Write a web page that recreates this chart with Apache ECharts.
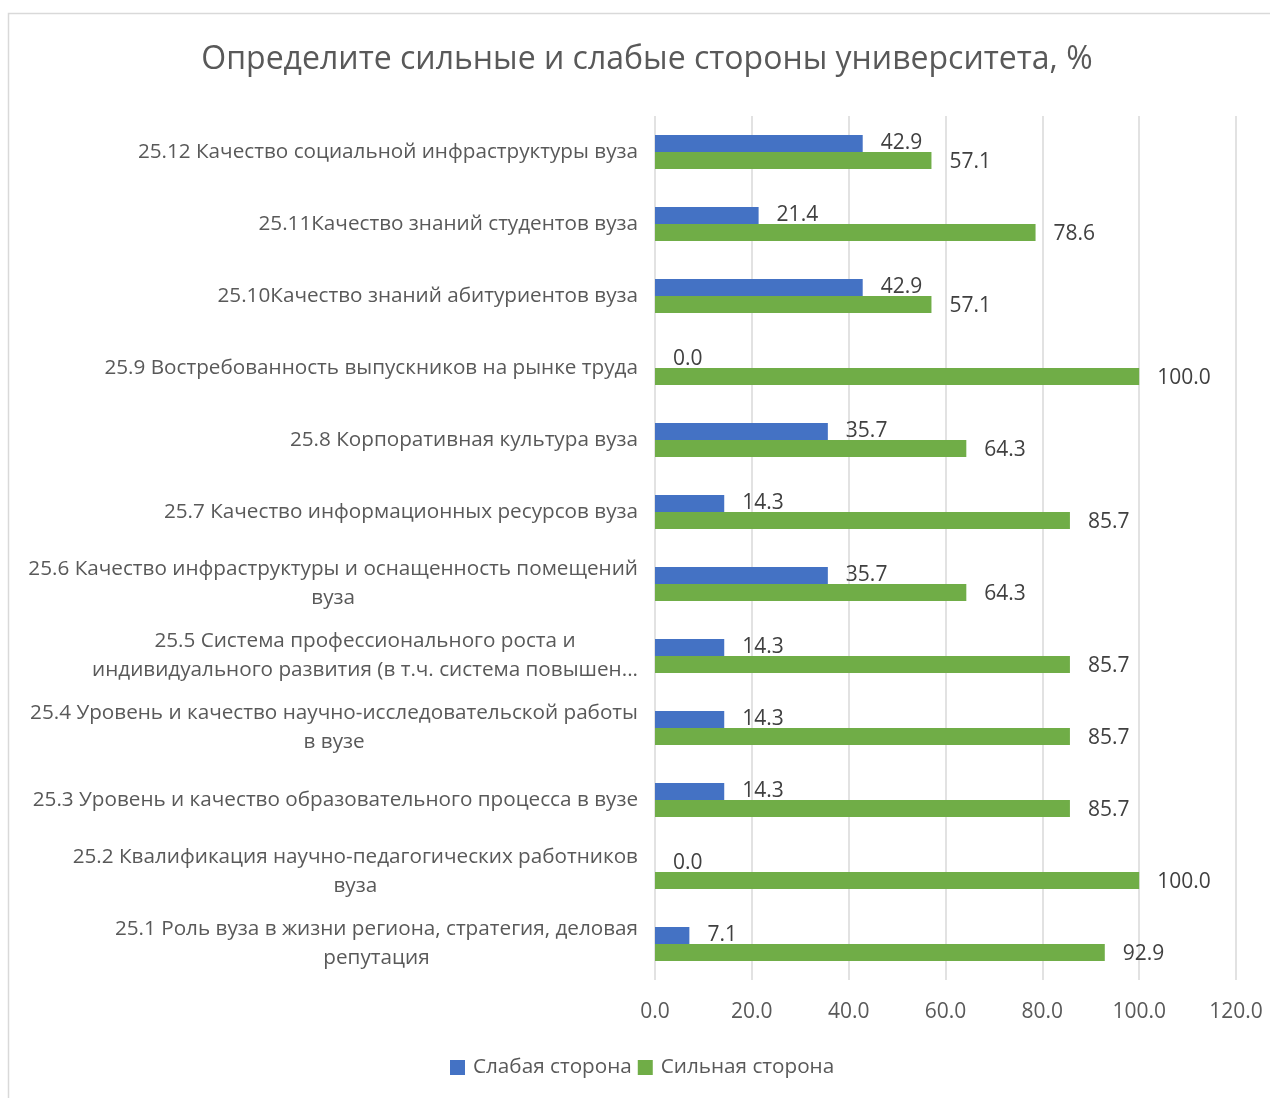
<!DOCTYPE html>
<html>
<head>
<meta charset="utf-8">
<script src="https://cdn.jsdelivr.net/npm/echarts@6/dist/echarts.min.js"></script>
<style>
  html, body { margin: 0; padding: 0; background: #fff; }
  #chart { width: 1270px; height: 1098px; }
</style>
</head>
<body>
<div id="chart"></div>
<script>
// categories, top to bottom
const categories = [
  '25.12 Качество социальной инфраструктуры вуза',
  '25.11Качество знаний студентов вуза',
  '25.10Качество знаний абитуриентов вуза',
  '25.9 Востребованность выпускников на рынке труда',
  '25.8 Корпоративная культура вуза',
  '25.7 Качество информационных ресурсов вуза',
  '25.6 Качество инфраструктуры и оснащенность помещений\nвуза',
  '25.5 Система профессионального роста и\nиндивидуального развития (в т.ч. система повышен...',
  '25.4 Уровень и качество научно-исследовательской работы\nв вузе',
  '25.3 Уровень и качество образовательного процесса в вузе',
  '25.2 Квалификация научно-педагогических работников\nвуза',
  '25.1 Роль вуза в жизни региона, стратегия, деловая\nрепутация'
]
const weakValues = [42.9, 21.4, 42.9, 0.0, 35.7, 14.3, 35.7, 14.3, 14.3, 14.3, 0.0, 7.1]
const strongValues = [57.1, 78.6, 57.1, 100.0, 64.3, 85.7, 64.3, 85.7, 85.7, 85.7, 100.0, 92.9]
const seriesNames = ['Слабая сторона', 'Сильная сторона']

const FONT = '"Open Sans", "Noto Sans", sans-serif'
const chartInstance = echarts.init(document.getElementById('chart'))

const labelStyle = {
  show: true,
  position: 'right',
  distance: 18,
  color: '#404040',
  fontFamily: FONT,
  fontSize: 21,
  formatter: p => p.value.toFixed(1)
}

const option = {
  backgroundColor: '#fff',
  animation: false,
  graphic: [{
    type: 'rect',
    shape: { x: 8.5, y: 13.5, width: 1300, height: 1200 },
    style: { fill: 'none', stroke: '#d9d9d9', lineWidth: 1.5 },
    silent: true
  }],
  title: {
    text: 'Определите сильные и слабые стороны университета, %',
    left: 642,
    textAlign: 'center',
    top: 39,
    textStyle: {
      color: '#595959',
      fontFamily: FONT,
      fontSize: 32,
      fontWeight: 'normal'
    }
  },
  legend: {
    data: seriesNames,
    left: 445,
    top: 1052,
    itemWidth: 15,
    itemHeight: 15,
    itemGap: 6,
    icon: 'rect',
    textStyle: { color: '#595959', fontFamily: FONT, fontSize: 20.7, padding: [0, 0, 0, 3] }
  },
  grid: {
    left: 655,
    right: 34,
    top: 116,
    bottom: 118,
    containLabel: false
  },
  xAxis: {
    type: 'value',
    min: 0,
    max: 120,
    interval: 20,
    axisLine: { show: false },
    axisTick: { show: false },
    splitLine: { lineStyle: { color: '#d9d9d9', width: 1.5 } },
    axisLabel: {
      margin: 22,
      color: '#595959',
      fontFamily: FONT,
      fontSize: 21,
      formatter: v => v.toFixed(1)
    }
  },
  yAxis: {
    type: 'category',
    inverse: true,
    data: categories,
    axisLine: { show: false },
    axisTick: { show: false },
    axisLabel: {
      margin: 17,
      align: 'right',
      color: '#595959',
      fontFamily: FONT,
      fontSize: 20.7,
      lineHeight: 29,
      formatter: v => v.split('\n').map(s => '{c|' + s + '}').join('\n'),
      rich: {
        c: {
          align: 'center',
          color: '#595959',
          fontFamily: FONT,
          fontSize: 20.7,
          lineHeight: 29
        }
      }
    }
  },
  series: [
    {
      name: seriesNames[0],
      type: 'bar',
      data: weakValues,
      barWidth: 17,
      barGap: '0%',
      itemStyle: { color: '#4472C4' },
      label: Object.assign({}, labelStyle, { offset: [0, 0] })
    },
    {
      name: seriesNames[1],
      type: 'bar',
      data: strongValues,
      barWidth: 17,
      barGap: '0%',
      itemStyle: { color: '#70AD47' },
      label: Object.assign({}, labelStyle, { offset: [0, 2] })
    }
  ]
}

chartInstance.setOption(option)
</script>
</body>
</html>
